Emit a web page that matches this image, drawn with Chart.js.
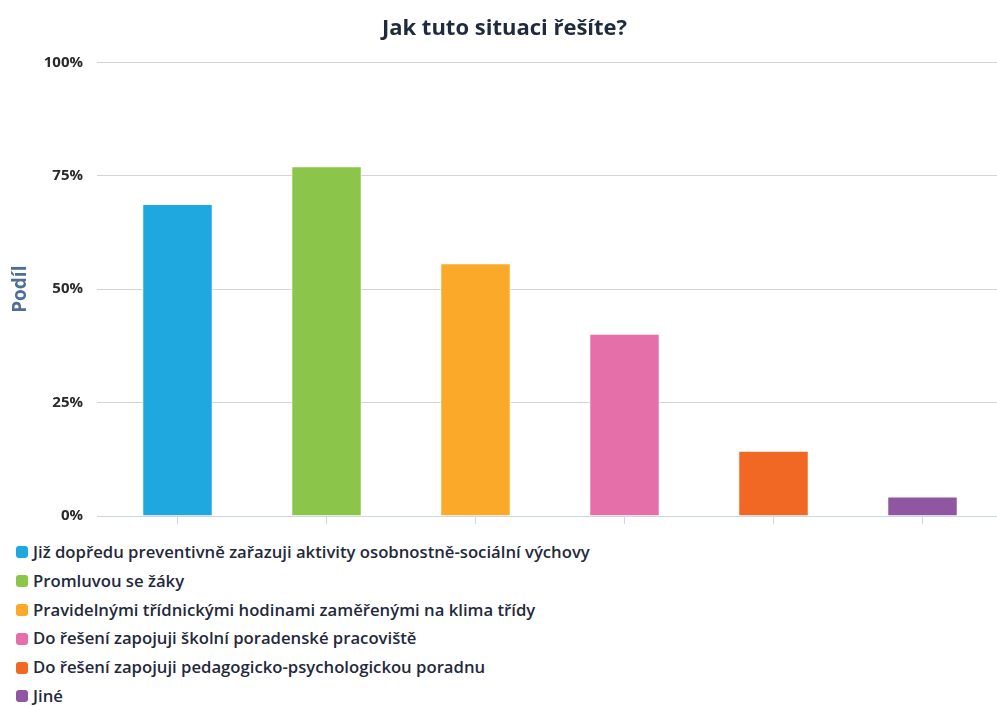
<!DOCTYPE html>
<html>
<head>
<meta charset="utf-8">
<script src="https://cdn.jsdelivr.net/npm/chart.js@4"></script>
<style>
  html, body { margin: 0; padding: 0; background: #fff; }
  #wrap { position: relative; width: 997px; height: 539px; }
  #legend { margin: -1px 0 0 0; padding: 0 0 0 16px; list-style: none; font-family: "Open Sans", sans-serif; font-weight: 600; font-size: 16.7px; color: #1f2a3c; }
  #legend li { height: 28.8px; line-height: 28.8px; display: flex; align-items: center; white-space: nowrap; }
  #legend .box { width: 12px; height: 12px; border-radius: 3px; margin-right: 5px; flex: none; }
</style>
</head>
<body>
<div id="wrap"><canvas id="c"></canvas></div>
<ul id="legend"></ul>
<script>
const titleText = "Jak tuto situaci řešíte?";
const yAxisTitle = "Podíl";
const categories = [
  "Již dopředu preventivně zařazuji aktivity osobnostně-sociální výchovy",
  "Promluvou se žáky",
  "Pravidelnými třídnickými hodinami zaměřenými na klima třídy",
  "Do řešení zapojuji školní poradenské pracoviště",
  "Do řešení zapojuji pedagogicko-psychologickou poradnu",
  "Jiné"
];
const values = [68.8, 77.1, 55.7, 40.2, 14.4, 4.3];
const barColors = ["#1fa8df", "#8bc54a", "#fba929", "#e56fa9", "#f06824", "#8f57a1"];
const yTicks = [0, 25, 50, 75, 100];

const chart = new Chart(document.getElementById("c"), {
  type: "bar",
  data: {
    labels: categories,
    datasets: [{
      data: values,
      backgroundColor: barColors,
      borderColor: "#ffffff",
      borderWidth: 1,
      barPercentage: 0.473,
      categoryPercentage: 1
    }]
  },
  options: {
    responsive: true,
    maintainAspectRatio: false,
    animation: false,
    layout: { padding: { left: 12, right: 0, top: 0, bottom: 0 } },
    plugins: {
      legend: { display: false },
      tooltip: { enabled: false },
      title: {
        display: true,
        text: titleText,
        color: "#1f2a3c",
        font: { family: "'Open Sans', sans-serif", size: 22, weight: "bold" },
        padding: { top: 16, bottom: 20 }
      }
    },
    scales: {
      x: {
        grid: { display: true, drawOnChartArea: false, drawTicks: true, tickLength: 8, color: "#ccd6eb", offset: false },
        border: { color: "#ccd6eb", width: 1 },
        ticks: { display: false }
      },
      y: {
        min: 0, max: 100,
        afterBuildTicks: (axis) => { axis.ticks = yTicks.map(v => ({ value: v })); },
        afterFit: (s) => { s.width = 91; },
        grid: { color: "#d4d4d4", drawTicks: true, tickLength: 6, lineWidth: 1 },
        border: { display: false },
        ticks: {
          padding: 14,
          color: "#2a2a2a",
          font: { family: "'Open Sans', sans-serif", size: 15, weight: "bold" },
          callback: (v) => v + "%"
        },
        title: {
          display: true,
          text: yAxisTitle,
          color: "#4d6e98",
          font: { family: "'Open Sans', sans-serif", size: 19, weight: "bold" },
          padding: { top: -3, bottom: 10 }
        }
      }
    }
  }
});

const ul = document.getElementById("legend");
categories.forEach((c, i) => {
  const li = document.createElement("li");
  const box = document.createElement("span");
  box.className = "box";
  box.style.background = barColors[i];
  const t = document.createElement("span");
  t.textContent = c;
  li.appendChild(box);
  li.appendChild(t);
  ul.appendChild(li);
});
</script>
</body>
</html>
